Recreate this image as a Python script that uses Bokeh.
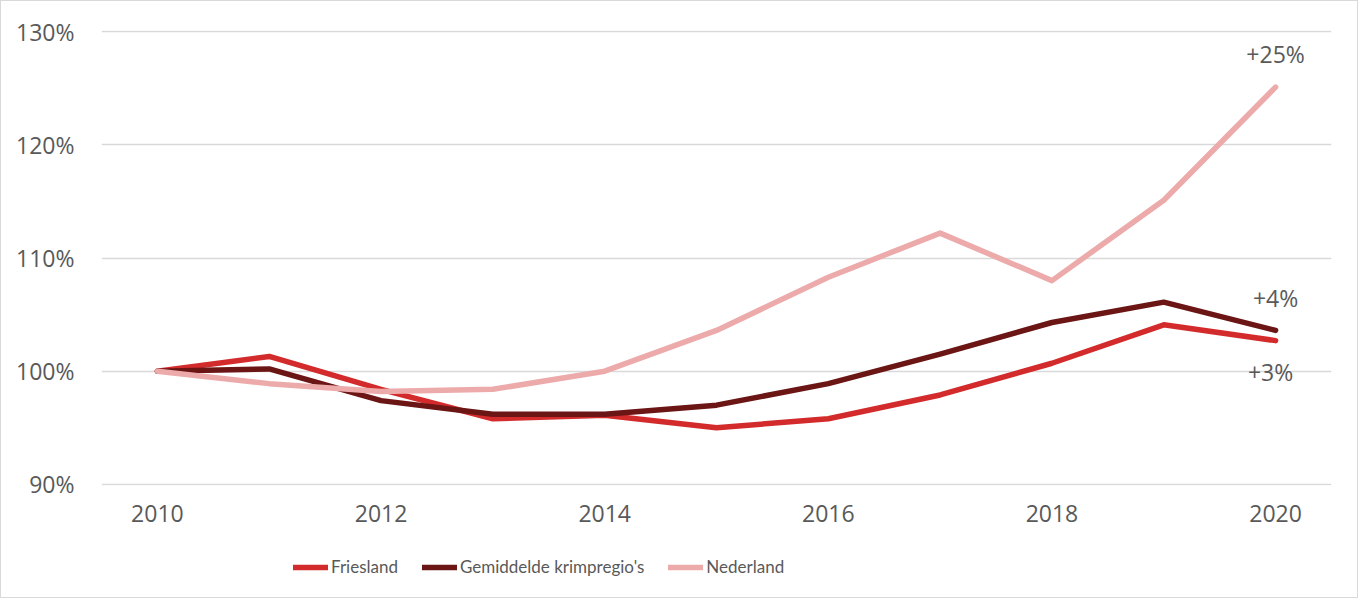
from bokeh.plotting import figure
from bokeh.layouts import column
from bokeh.core.properties import value
from bokeh.models import Range1d, FixedTicker, PrintfTickFormatter, Legend, LegendItem, ColumnDataSource, LabelSet
from bokeh.embed import file_html
from bokeh.resources import INLINE

years = [2010, 2011, 2012, 2013, 2014, 2015, 2016, 2017, 2018, 2019, 2020]
friesland = [100.0, 101.3, 98.4, 95.8, 96.1, 95.0, 95.8, 97.9, 100.7, 104.1, 102.7]
krimp = [100.0, 100.2, 97.4, 96.2, 96.2, 97.0, 98.9, 101.5, 104.3, 106.1, 103.6]
nederland = [100.0, 98.9, 98.2, 98.4, 100.0, 103.6, 108.3, 112.2, 108.0, 115.1, 125.1]
series_names = ["Friesland", "Gemiddelde krimpregio's", "Nederland"]
end_labels = ["+3%", "+4%", "+25%"]
x_ticks = [2010, 2012, 2014, 2016, 2018, 2020]
y_ticks = [90, 100, 110, 120, 130]

colors = ["#D32B2B", "#6B1515", "#EDAAAA"]
TXT = "#595959"
FONT = "Open Sans"
BORDER = "1px solid #d9d9d9"
series = [friesland, krimp, nederland]

p = figure(width=1358, height=540, output_backend="svg", toolbar_location=None,
           x_range=Range1d(2009.5, 2020.5), y_range=Range1d(89.9, 130.1),
           min_border_left=100, min_border_right=28, min_border_top=29, min_border_bottom=56)
p.styles = {"border-left": BORDER, "border-right": BORDER, "border-top": BORDER, "box-sizing": "border-box"}
p.outline_line_color = None
p.xgrid.grid_line_color = None
p.ygrid.grid_line_color = "#d9d9d9"
p.ygrid.grid_line_width = 1.5

p.xaxis.ticker = FixedTicker(ticks=x_ticks)
p.yaxis.ticker = FixedTicker(ticks=y_ticks)
p.yaxis.formatter = PrintfTickFormatter(format="%d%%")
for ax in (p.xaxis, p.yaxis):
    ax.axis_line_color = None
    ax.major_tick_line_color = None
    ax.minor_tick_line_color = None
    ax.major_label_text_font = FONT
    ax.major_label_text_font_size = "23px"
    ax.major_label_text_color = TXT
p.xaxis.major_label_standoff = 13
p.yaxis.major_label_standoff = 21

for vals, c in zip(series, colors):
    p.line(years, vals, line_color=c, line_width=5.5, line_cap="round", line_join="round")

last_vals = [s[-1] for s in series]
src = ColumnDataSource(dict(x=[years[-1]] * 3, y=last_vals, t=end_labels,
                            xo=[-5, 0, 0], yo=[-31, 32, 33]))
labels = LabelSet(x="x", y="y", text="t", source=src, x_offset="xo", y_offset="yo",
                  text_align="center", text_baseline="middle",
                  text_font=value(FONT), text_font_size="23px", text_color=TXT)
p.add_layout(labels)

# legend strip below the chart (series lines fall outside this strip's ranges; only the keys show)
lg = figure(width=1358, height=58, output_backend="svg", toolbar_location=None,
            x_range=Range1d(0, 1), y_range=Range1d(0, 1),
            min_border_left=0, min_border_right=0, min_border_top=0, min_border_bottom=0)
lg.styles = {"border-left": BORDER, "border-right": BORDER, "border-bottom": BORDER, "box-sizing": "border-box"}
lg.axis.visible = False
lg.grid.visible = False
lg.outline_line_color = None
keys = [lg.line(years, vals, line_color=c, line_width=5.5, line_cap="round")
        for vals, c in zip(series, colors)]

legend = Legend(items=[LegendItem(label=n, renderers=[r]) for n, r in zip(series_names, keys)],
                location=(192, 21), orientation="horizontal", border_line_color=None,
                background_fill_alpha=0, padding=0, margin=0, glyph_width=35, glyph_height=20,
                label_height=20, label_standoff=3, spacing=24,
                label_text_font="Lato", label_text_font_size="17px",
                label_text_color=TXT)
lg.add_layout(legend)

layout = column(p, lg, spacing=0)
open("out.html", "w").write(file_html(layout, INLINE))
